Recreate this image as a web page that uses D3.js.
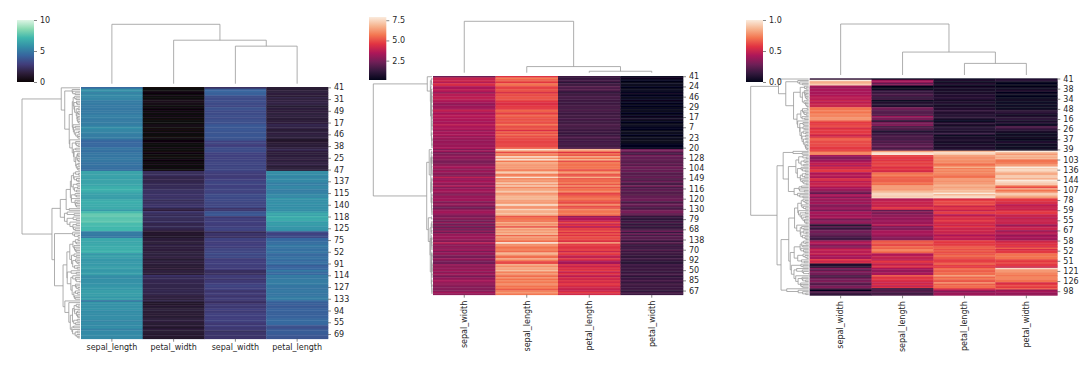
<!DOCTYPE html>
<html>
<head>
<meta charset="utf-8">
<script src="https://cdn.jsdelivr.net/npm/d3@7"></script>
<style>
    html, body { margin: 0; padding: 0; background: #fff; }
    text { font-family: "DejaVu Sans", sans-serif; }
</style>
</head>
<body>
<script>
var columns = ['sepal_length', 'sepal_width', 'petal_length', 'petal_width'];

var sepalLength = [5.1,4.9,4.7,4.6,5.0,5.4,4.6,5.0,4.4,4.9,5.4,4.8,4.8,4.3,5.8,5.7,5.4,5.1,5.7,5.1,5.4,5.1,4.6,5.1,4.8,5.0,5.0,5.2,5.2,4.7,4.8,5.4,5.2,5.5,4.9,5.0,5.5,4.9,4.4,5.1,5.0,4.5,4.4,5.0,5.1,4.8,5.1,4.6,5.3,5.0,
    7.0,6.4,6.9,5.5,6.5,5.7,6.3,4.9,6.6,5.2,5.0,5.9,6.0,6.1,5.6,6.7,5.6,5.8,6.2,5.6,5.9,6.1,6.3,6.1,6.4,6.6,6.8,6.7,6.0,5.7,5.5,5.5,5.8,6.0,5.4,6.0,6.7,6.3,5.6,5.5,5.5,6.1,5.8,5.0,5.6,5.7,5.7,6.2,5.1,5.7,
    6.3,5.8,7.1,6.3,6.5,7.6,4.9,7.3,6.7,7.2,6.5,6.4,6.8,5.7,5.8,6.4,6.5,7.7,7.7,6.0,6.9,5.6,7.7,6.3,6.7,7.2,6.2,6.1,6.4,7.2,7.4,7.9,6.4,6.3,6.1,7.7,6.3,6.4,6.0,6.9,6.7,6.9,5.8,6.8,6.7,6.7,6.3,6.5,6.2,5.9];
var sepalWidth = [3.5,3.0,3.2,3.1,3.6,3.9,3.4,3.4,2.9,3.1,3.7,3.4,3.0,3.0,4.0,4.4,3.9,3.5,3.8,3.8,3.4,3.7,3.6,3.3,3.4,3.0,3.4,3.5,3.4,3.2,3.1,3.4,4.1,4.2,3.1,3.2,3.5,3.6,3.0,3.4,3.5,2.3,3.2,3.5,3.8,3.0,3.8,3.2,3.7,3.3,
    3.2,3.2,3.1,2.3,2.8,2.8,3.3,2.4,2.9,2.7,2.0,3.0,2.2,2.9,2.9,3.1,3.0,2.7,2.2,2.5,3.2,2.8,2.5,2.8,2.9,3.0,2.8,3.0,2.9,2.6,2.4,2.4,2.7,2.7,3.0,3.4,3.1,2.3,3.0,2.5,2.6,3.0,2.6,2.3,2.7,3.0,2.9,2.9,2.5,2.8,
    3.3,2.7,3.0,2.9,3.0,3.0,2.5,2.9,2.5,3.6,3.2,2.7,3.0,2.5,2.8,3.2,3.0,3.8,2.6,2.2,3.2,2.8,2.8,2.7,3.3,3.2,2.8,3.0,2.8,3.0,2.8,3.8,2.8,2.8,2.6,3.0,3.4,3.1,3.0,3.1,3.1,3.1,2.7,3.2,3.3,3.0,2.5,3.0,3.4,3.0];
var petalLength = [1.4,1.4,1.3,1.5,1.4,1.7,1.4,1.5,1.4,1.5,1.5,1.6,1.4,1.1,1.2,1.5,1.3,1.4,1.7,1.5,1.7,1.5,1.0,1.7,1.9,1.6,1.6,1.5,1.4,1.6,1.6,1.5,1.5,1.4,1.5,1.2,1.3,1.4,1.3,1.5,1.3,1.3,1.3,1.6,1.9,1.4,1.6,1.4,1.5,1.4,
    4.7,4.5,4.9,4.0,4.6,4.5,4.7,3.3,4.6,3.9,3.5,4.2,4.0,4.7,3.6,4.4,4.5,4.1,4.5,3.9,4.8,4.0,4.9,4.7,4.3,4.4,4.8,5.0,4.5,3.5,3.8,3.7,3.9,5.1,4.5,4.5,4.7,4.4,4.1,4.0,4.4,4.6,4.0,3.3,4.2,4.2,4.2,4.3,3.0,4.1,
    6.0,5.1,5.9,5.6,5.8,6.6,4.5,6.3,5.8,6.1,5.1,5.3,5.5,5.0,5.1,5.3,5.5,6.7,6.9,5.0,5.7,4.9,6.7,4.9,5.7,6.0,4.8,4.9,5.6,5.8,6.1,6.4,5.6,5.1,5.6,6.1,5.6,5.5,4.8,5.4,5.6,5.1,5.1,5.9,5.7,5.2,5.0,5.2,5.4,5.1];
var petalWidth = [0.2,0.2,0.2,0.2,0.2,0.4,0.3,0.2,0.2,0.1,0.2,0.2,0.1,0.1,0.2,0.4,0.4,0.3,0.3,0.3,0.2,0.4,0.2,0.5,0.2,0.2,0.4,0.2,0.2,0.2,0.2,0.4,0.1,0.2,0.2,0.2,0.2,0.1,0.2,0.2,0.3,0.3,0.2,0.6,0.4,0.3,0.2,0.2,0.2,0.2,
    1.4,1.5,1.5,1.3,1.5,1.3,1.6,1.0,1.3,1.4,1.0,1.5,1.0,1.4,1.3,1.4,1.5,1.0,1.5,1.1,1.8,1.3,1.5,1.2,1.3,1.4,1.4,1.7,1.5,1.0,1.1,1.0,1.2,1.6,1.5,1.6,1.5,1.3,1.3,1.3,1.2,1.4,1.2,1.0,1.3,1.2,1.3,1.3,1.1,1.3,
    2.5,1.9,2.1,1.8,2.2,2.1,1.7,1.8,1.8,2.5,2.0,1.9,2.1,2.0,2.4,2.3,1.8,2.2,2.3,1.5,2.3,2.0,2.0,1.8,2.1,1.8,1.8,1.8,2.1,1.6,1.9,2.0,2.2,1.5,1.4,2.3,2.4,1.8,1.8,2.1,2.4,2.3,1.9,2.3,2.5,2.3,1.9,2.0,2.3,1.8];

// row labels shown on each clustermap
var rowTicks1 = [41,31,49,17,46,38,25,47,137,115,140,118,125,75,52,91,114,127,133,94,55,69];
var rowTicks2 = [41,24,46,29,17,7,23,20,128,104,149,116,120,130,79,68,138,70,92,50,85,67];
var rowTicks3 = [41,38,34,48,16,26,37,39,103,136,144,107,78,59,55,67,58,52,51,121,126,98];

// seaborn colormaps
var makoColors = ['#0b0405', '#2e1e3b', '#413d7b', '#37659e', '#348fa7', '#40b7ad', '#8bdab2', '#def5e5'];
var rocketColors = ['#03051a', '#35193e', '#701f57', '#ad1759', '#e13342', '#f37651', '#f6b48f', '#faebdd'];
var cmapStops = [0, 1 / 7, 2 / 7, 3 / 7, 4 / 7, 5 / 7, 6 / 7, 1];

var svg = d3.select('body').append('svg')
    .attr('width', 1092)
    .attr('height', 366);

// soften the rows a little, the reference is a scaled down image
svg.append('defs').append('filter')
    .attr('id', 'soft')
    .attr('x', 0).attr('y', 0)
    .attr('width', 1).attr('height', 1)
    .append('feGaussianBlur')
    .attr('stdDeviation', '0 0.6');

function euclidean(u, v) {
    var s = 0;
    for (var i = 0; i < u.length; i++) {
        s += (u[i] - v[i]) * (u[i] - v[i]);
    }
    return Math.sqrt(s);
}

function correlation(u, v) {
    var mu = d3.mean(u), mv = d3.mean(v);
    var uv = 0, uu = 0, vv = 0;
    for (var i = 0; i < u.length; i++) {
        uv += (u[i] - mu) * (v[i] - mv);
        uu += (u[i] - mu) * (u[i] - mu);
        vv += (v[i] - mv) * (v[i] - mv);
    }
    var c = uv / (Math.sqrt(uu) * Math.sqrt(vv));
    return 1 - Math.max(-1, Math.min(1, c));
}

function distMatrix(rows, metric) {
    return rows.map(function (a) {
        return rows.map(function (b) {
            return metric(a, b);
        });
    });
}

// same order of merges as scipy.cluster.hierarchy.linkage
function relabel(merges, n) {
    var order = d3.range(merges.length).sort(function (a, b) {
        return merges[a][2] - merges[b][2] || a - b;
    });
    var parent = d3.range(2 * n - 1);
    function find(x) {
        while (parent[x] !== x) {
            x = parent[x];
        }
        return x;
    }
    return order.map(function (k, i) {
        var a = find(merges[k][0]), b = find(merges[k][1]);
        parent[a] = n + i;
        parent[b] = n + i;
        return [Math.min(a, b), Math.max(a, b), merges[k][2]];
    });
}

function averageLinkage(D0) {
    var n = D0.length;
    var D = D0.map(function (r) { return r.slice(); });
    var size = d3.range(n).map(function () { return 1; });
    var chain = [];
    var merges = [];
    for (var k = 0; k < n - 1; k++) {
        if (chain.length === 0) {
            chain.push(size.findIndex(function (s) { return s > 0; }));
        }
        var x, y, min;
        while (true) {
            x = chain[chain.length - 1];
            if (chain.length > 1) {
                y = chain[chain.length - 2];
                min = D[x][y];
            } else {
                min = Infinity;
            }
            for (var i = 0; i < n; i++) {
                if (size[i] === 0 || i === x) continue;
                if (D[x][i] < min) {
                    min = D[x][i];
                    y = i;
                }
            }
            if (chain.length > 1 && y === chain[chain.length - 2]) break;
            chain.push(y);
        }
        chain.length -= 2;
        if (x > y) {
            var t = x; x = y; y = t;
        }
        var nx = size[x], ny = size[y];
        merges.push([x, y, min]);
        size[x] = 0;
        size[y] = nx + ny;
        for (var j = 0; j < n; j++) {
            if (size[j] === 0 || j === y) continue;
            var d = (nx * D[j][x] + ny * D[j][y]) / (nx + ny);
            D[j][y] = d;
            D[y][j] = d;
        }
    }
    return relabel(merges, n);
}

// leaf order and the U shapes of a dendrogram
function dendrogram(Z) {
    var n = Z.length + 1;
    var leaves = [];
    var links = [];
    function walk(id) {
        if (id < n) {
            leaves.push(id);
            return { pos: leaves.length - 1, h: 0 };
        }
        var m = Z[id - n];
        var a = walk(m[0]);
        var b = walk(m[1]);
        links.push({ a: a, b: b, h: m[2] });
        return { pos: (a.pos + b.pos) / 2, h: m[2] };
    }
    walk(2 * n - 2);
    return { leaves: leaves, links: links };
}

function drawClustermap(cfg) {
    var rowsData = d3.range(sepalLength.length).map(function (i) {
        return cfg.values.map(function (c) { return c[i]; });
    });
    var colsData = cfg.values;

    var rowTree = dendrogram(averageLinkage(distMatrix(rowsData, cfg.metric)));
    var colTree = dendrogram(averageLinkage(distMatrix(colsData, cfg.metric)));

    var x = d3.scaleBand().domain(colTree.leaves).range([cfg.x, cfg.x + cfg.w]);
    var y = d3.scaleBand().domain(rowTree.leaves).range([cfg.y, cfg.y + cfg.h]);

    var color = d3.scaleLinear()
        .domain(cmapStops.map(function (t) { return cfg.vmin + t * (cfg.vmax - cfg.vmin); }))
        .range(cfg.colors)
        .clamp(true);

    var g = svg.append('g');

    // heatmap
    var heat = g.append('g').attr('filter', 'url(#soft)');
    colTree.leaves.forEach(function (c) {
        heat.append('g').selectAll('rect')
            .data(rowTree.leaves)
            .enter()
            .append('rect')
            .attr('x', x(c))
            .attr('y', function (r) { return y(r); })
            .attr('width', x.bandwidth() + 0.3)
            .attr('height', y.bandwidth() + 0.4)
            .attr('fill', function (r) { return color(rowsData[r][c]); });
    });

    // tick labels
    var rowAxis = d3.axisRight(y)
        .tickValues(rowTree.leaves.filter(function (d, i) { return i % 7 === 0; }))
        .tickFormat(function (d, i) { return cfg.rowTicks[i]; })
        .tickSize(3)
        .tickPadding(3);
    var rowG = g.append('g')
        .attr('transform', 'translate(' + (cfg.x + cfg.w) + ',0)')
        .call(rowAxis);

    var colAxis = d3.axisBottom(x)
        .tickFormat(function (d) { return columns[d]; })
        .tickSize(3)
        .tickPadding(3);
    var colG = g.append('g')
        .attr('transform', 'translate(0,' + (cfg.y + cfg.h) + ')')
        .call(colAxis);

    if (cfg.rotate) {
        colG.selectAll('text')
            .attr('transform', 'rotate(-90)')
            .attr('x', -6)
            .attr('y', 0)
            .attr('dy', '.35em')
            .attr('text-anchor', 'end');
    }

    [rowG, colG].forEach(function (axis) {
        axis.select('.domain').remove();
        axis.selectAll('line').attr('stroke', '#555').attr('stroke-width', 0.7);
        axis.selectAll('text').attr('font-size', 8).attr('fill', '#262626');
    });

    // dendrograms
    var rowH = d3.scaleLinear()
        .domain([0, d3.max(rowTree.links, function (d) { return d.h; })])
        .range([cfg.x - 1, cfg.rowRoot]);
    var colH = d3.scaleLinear()
        .domain([0, d3.max(colTree.links, function (d) { return d.h; })])
        .range([cfg.y - 3.3, cfg.colRoot]);

    var rowPos = function (p) { return cfg.y + (p + 0.5) * y.step(); };
    var colPos = function (p) { return cfg.x + (p + 0.5) * x.step(); };

    g.append('g').selectAll('path')
        .data(rowTree.links)
        .enter()
        .append('path')
        .attr('fill', 'none')
        .attr('stroke', '#999')
        .attr('stroke-width', 0.8)
        .attr('d', function (d) {
            return 'M' + rowH(d.a.h) + ',' + rowPos(d.a.pos) +
                'H' + rowH(d.h) + 'V' + rowPos(d.b.pos) + 'H' + rowH(d.b.h);
        });

    g.append('g').selectAll('path')
        .data(colTree.links)
        .enter()
        .append('path')
        .attr('fill', 'none')
        .attr('stroke', '#999')
        .attr('stroke-width', 0.8)
        .attr('d', function (d) {
            return 'M' + colPos(d.a.pos) + ',' + colH(d.a.h) +
                'V' + colH(d.h) + 'H' + colPos(d.b.pos) + 'V' + colH(d.b.h);
        });

    // colorbar
    var gradId = 'grad' + cfg.id;
    var grad = svg.append('defs').append('linearGradient')
        .attr('id', gradId)
        .attr('x1', 0).attr('y1', 1)
        .attr('x2', 0).attr('y2', 0);
    grad.selectAll('stop')
        .data(cmapStops)
        .enter()
        .append('stop')
        .attr('offset', function (d) { return d; })
        .attr('stop-color', function (d, i) { return cfg.colors[i]; });

    g.append('rect')
        .attr('x', cfg.cbar[0])
        .attr('y', cfg.cbar[1])
        .attr('width', cfg.cbar[2])
        .attr('height', cfg.cbar[3])
        .attr('fill', 'url(#' + gradId + ')');

    var cbarScale = d3.scaleLinear()
        .domain([cfg.vmin, cfg.vmax])
        .range([cfg.cbar[1] + cfg.cbar[3], cfg.cbar[1]]);
    var cbarG = g.append('g')
        .attr('transform', 'translate(' + (cfg.cbar[0] + cfg.cbar[2]) + ',0)')
        .call(d3.axisRight(cbarScale)
            .tickValues(cfg.cbarTicks)
            .tickFormat(d3.format(cfg.cbarFormat))
            .tickSize(3)
            .tickPadding(3));
    cbarG.select('.domain').remove();
    cbarG.selectAll('line').attr('stroke', '#555').attr('stroke-width', 0.7);
    cbarG.selectAll('text').attr('font-size', 8).attr('fill', '#262626');
}

function scaled(col) {
    var lo = d3.min(col), hi = d3.max(col);
    return col.map(function (v) { return (v - lo) / (hi - lo); });
}

var raw = [sepalLength, sepalWidth, petalLength, petalWidth];

drawClustermap({
    id: 1, values: raw, metric: euclidean, rowTicks: rowTicks1,
    x: 81, y: 87, w: 247, h: 251.7, rowRoot: 22, colRoot: 24.3,
    vmin: 0, vmax: 10, colors: makoColors,
    cbar: [17, 20, 17, 62], cbarTicks: [0, 5, 10], cbarFormat: 'd',
    rotate: false
});

drawClustermap({
    id: 2, values: raw, metric: correlation, rowTicks: rowTicks2,
    x: 433, y: 76, w: 250, h: 218.7, rowRoot: 373.3, colRoot: 21.3,
    vmin: 0.1, vmax: 7.9, colors: rocketColors,
    cbar: [369, 17, 17.3, 63], cbarTicks: [2.5, 5, 7.5], cbarFormat: '.1f',
    rotate: true
});

drawClustermap({
    id: 3, values: raw.map(scaled), metric: euclidean, rowTicks: rowTicks3,
    x: 809.7, y: 78.3, w: 247.6, h: 217, rowRoot: 750.7, colRoot: 24,
    vmin: 0, vmax: 1, colors: rocketColors,
    cbar: [746, 20, 17, 62], cbarTicks: [0, 0.5, 1], cbarFormat: '.1f',
    rotate: true
});
</script>
</body>
</html>
